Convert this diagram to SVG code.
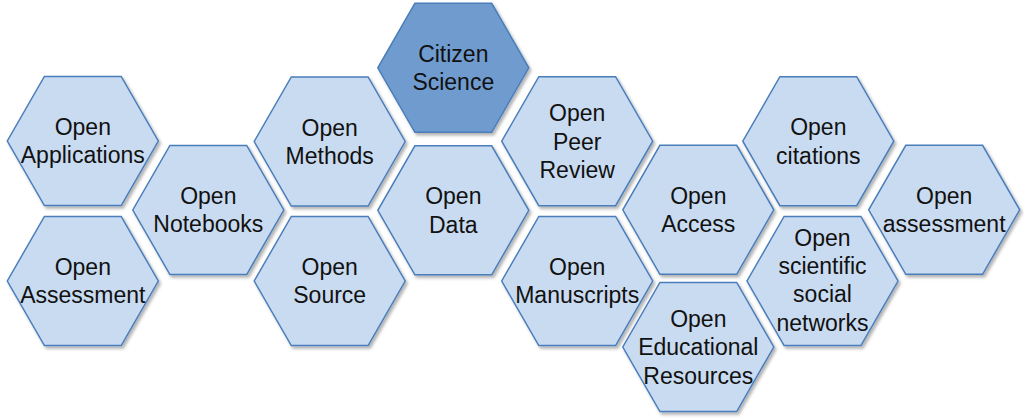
<svg xmlns="http://www.w3.org/2000/svg" xmlns:xlink="http://www.w3.org/1999/xlink" width="1024" height="418" viewBox="0 0 1024 418">
<style>
.hex{fill:#C9DBF0;stroke:#4A7EBB;stroke-width:1.5;filter:url(#sh)}
.dark{fill:#6F9BCF}
.t{font-family:"Liberation Sans",Arial,Helvetica,sans-serif;font-size:23px;fill:#111;text-anchor:middle}
</style>
<defs>
<filter id="sh" x="-20%" y="-20%" width="140%" height="140%">
<feDropShadow dx="2" dy="2.5" stdDeviation="1.5" flood-color="#000" flood-opacity="0.3"/>
</filter>
<polygon id="hx" points="-38.4,-64.5 38.4,-64.5 75.5,0 38.4,64.5 -38.4,64.5 -75.5,0"/>
</defs>
<rect width="1024" height="418" fill="#fff"/>
<g id="connectors"/>
<g id="n-applications"><use xlink:href="#hx" href="#hx" class="hex" x="82.8" y="141"/><text class="t" x="82.8" y="135"><tspan x="82.8">Open</tspan><tspan x="82.8" dy="28.3">Applications</tspan></text></g>
<g id="n-assessment1"><use href="#hx" class="hex" x="82.8" y="281"/><text class="t" x="82.8" y="275"><tspan x="82.8">Open</tspan><tspan x="82.8" dy="28.3">Assessment</tspan></text></g>
<g id="n-notebooks"><use href="#hx" class="hex" x="208.3" y="210"/><text class="t" x="208.3" y="204"><tspan x="208.3">Open</tspan><tspan x="208.3" dy="28.3">Notebooks</tspan></text></g>
<g id="n-methods"><use href="#hx" class="hex" x="329.7" y="141.5"/><text class="t" x="329.7" y="135.5"><tspan x="329.7">Open</tspan><tspan x="329.7" dy="28.3">Methods</tspan></text></g>
<g id="n-source"><use href="#hx" class="hex" x="329.7" y="281"/><text class="t" x="329.7" y="275"><tspan x="329.7">Open</tspan><tspan x="329.7" dy="28.3">Source</tspan></text></g>
<g id="n-citizen"><use href="#hx" class="hex dark" x="453.3" y="67.8"/><text class="t" x="453.3" y="61.8"><tspan x="453.3">Citizen</tspan><tspan x="453.3" dy="28.3">Science</tspan></text></g>
<g id="n-data"><use href="#hx" class="hex" x="453.3" y="210.3"/><text class="t" x="453.3" y="204.3"><tspan x="453.3">Open</tspan><tspan x="453.3" dy="28.3">Data</tspan></text></g>
<g id="n-peer"><use href="#hx" class="hex" x="577.2" y="141.2"/><text class="t" x="577.2" y="121"><tspan x="577.2">Open</tspan><tspan x="577.2" dy="28.5">Peer</tspan><tspan x="577.2" dy="28.5">Review</tspan></text></g>
<g id="n-manuscripts"><use href="#hx" class="hex" x="577.2" y="281"/><text class="t" x="577.2" y="275"><tspan x="577.2">Open</tspan><tspan x="577.2" dy="28.3">Manuscripts</tspan></text></g>
<g id="n-access"><use href="#hx" class="hex" x="698.3" y="209.8"/><text class="t" x="698.3" y="203.8"><tspan x="698.3">Open</tspan><tspan x="698.3" dy="28.3">Access</tspan></text></g>
<g id="n-oer"><use href="#hx" class="hex" x="698.3" y="347"/><text class="t" x="698.3" y="326.5"><tspan x="698.3">Open</tspan><tspan x="698.3" dy="28.5">Educational</tspan><tspan x="698.3" dy="28.5">Resources</tspan></text></g>
<g id="n-citations"><use href="#hx" class="hex" x="818.3" y="141.2"/><text class="t" x="818.3" y="135.2"><tspan x="818.3">Open</tspan><tspan x="818.3" dy="28.3">citations</tspan></text></g>
<g id="n-social"><use href="#hx" class="hex" x="822.5" y="281"/><text class="t" x="822.5" y="245.8"><tspan x="822.5">Open</tspan><tspan x="822.5" dy="28.3">scientific</tspan><tspan x="822.5" dy="28.3">social</tspan><tspan x="822.5" dy="28.3">networks</tspan></text></g>
<g id="n-assessment2"><use href="#hx" class="hex" x="944.2" y="209.8"/><text class="t" x="944.2" y="203.8"><tspan x="944.2">Open</tspan><tspan x="944.2" dy="28.3">assessment</tspan></text></g>
</svg>
